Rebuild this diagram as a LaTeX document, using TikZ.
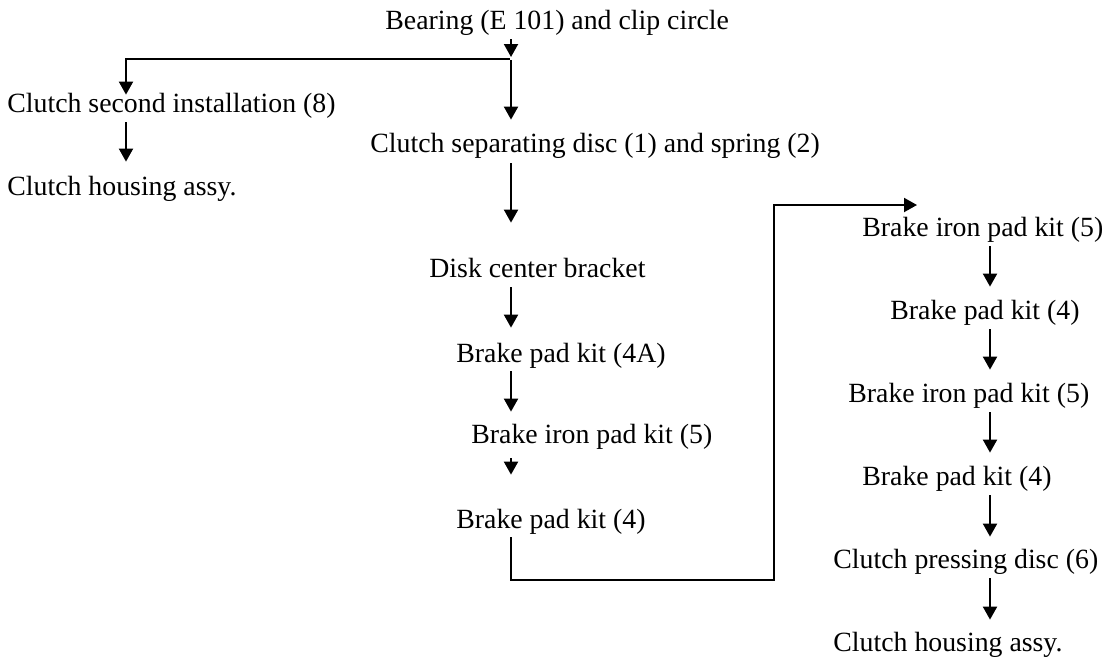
\documentclass[tikz,border=0pt]{standalone}
\usepackage{fontspec}
\setmainfont{Liberation Serif}
\usetikzlibrary{arrows.meta,calc}
\begin{document}
\begin{tikzpicture}[x=0.5pt,y=-0.5pt,
  lbl/.style={inner sep=0pt, anchor=base west, text height=8.5pt, text depth=4.5pt, font=\fontsize{13.9}{16}\selectfont},
  arr/.style={line width=1pt, -{Triangle[width=7pt,length=6.5pt]}, shorten <=0.5pt, shorten >=7.5pt},
  ln/.style={line width=1pt}]
\path[use as bounding box] (0,0) rectangle (1107,661);
% left / middle column
\node[lbl] (bear) at (385,29) {Bearing (E 101) and clip circle};
\node[lbl] (csi)  at (7,112)  {Clutch second installation (8)};
\node[lbl] (cha)  at (7,195)  {Clutch housing assy.};
\node[lbl] (csd)  at (370,152) {Clutch separating disc (1) and spring (2)};
\node[lbl] (dcb)  at (429,277) {Disk center bracket};
\node[lbl] (bfa)  at (456,362) {Brake pad kit (4A)};
\node[lbl] (bipa) at (471,443) {Brake iron pad kit (5)};
\node[lbl] (bpa)  at (456,528) {Brake pad kit (4)};
% right column
\node[lbl] (bipb) at (862,236) {Brake iron pad kit (5)};
\node[lbl] (bpb)  at (890,319) {Brake pad kit (4)};
\node[lbl] (bipc) at (848,402) {Brake iron pad kit (5)};
\node[lbl] (bpc)  at (862,485) {Brake pad kit (4)};
\node[lbl] (cpd)  at (833,568) {Clutch pressing disc (6)};
\node[lbl] (chb)  at (833,651) {Clutch housing assy.};
% helper coordinates
\coordinate (cx) at (511,0);
\coordinate (cl) at (126,0);
\coordinate (cr) at (990,0);
\coordinate (J) at (511,59);
\coordinate (turn) at (774,580);
\coordinate (entry) at (917,205);
% connectors
\draw[arr, shorten >=1pt] (bear.south -| cx) -- (J);
\draw[arr, shorten >=0pt] (J) -| (csi.north -| cl);
\draw[arr] (J) -- (csd.north -| cx);
\draw[arr, shorten >=8pt] (csi.south -| cl) -- (cha.north -| cl);
\draw[arr, shorten <=1pt, shorten >=18.5pt] (csd.south -| cx) -- (dcb.north -| cx);
\draw[arr, shorten >=8.5pt] (dcb.south -| cx) -- (bfa.north -| cx);
\draw[arr, shorten <=0pt, shorten >=7pt] (bfa.south -| cx) -- (bipa.north -| cx);
\draw[arr, shorten <=3pt, shorten >=18pt] (bipa.south -| cx) -- (bpa.north -| cx);
\draw[arr, shorten <=0pt, shorten >=0pt] (bpa.south -| cx) |- (turn) |- (entry);
\draw[arr] (bipb.south -| cr) -- (bpb.north -| cr);
\draw[arr] (bpb.south -| cr) -- (bipc.north -| cr);
\draw[arr] (bipc.south -| cr) -- (bpc.north -| cr);
\draw[arr, shorten >=7pt] (bpc.south -| cr) -- (cpd.north -| cr);
\draw[arr, shorten >=7pt] (cpd.south -| cr) -- (chb.north -| cr);
\end{tikzpicture}
\end{document}
